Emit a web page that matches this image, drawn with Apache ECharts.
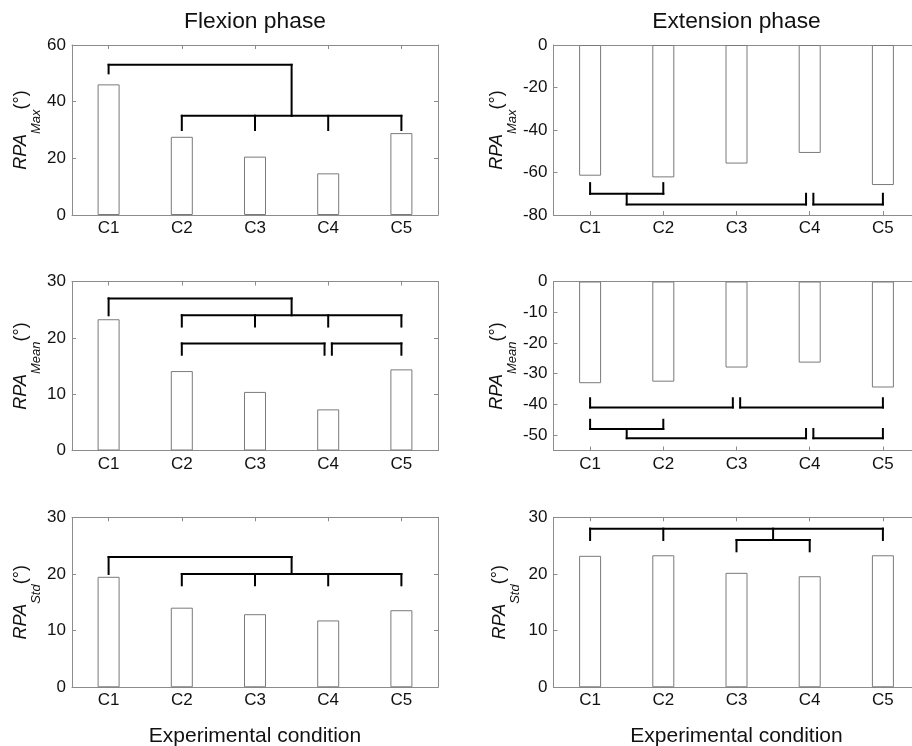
<!DOCTYPE html>
<html><head><meta charset="utf-8">
<script src="https://cdn.jsdelivr.net/npm/echarts@6/dist/echarts.min.js"></script>
<style>html,body{margin:0;padding:0;background:#fff}#c{width:912px;height:746px}</style>
</head><body><div id="c"></div>
<script>
// ---- data ----
const categories = ['C1', 'C2', 'C3', 'C4', 'C5'];
const flexMax  = [46.1, 27.6, 20.6, 14.7, 28.9];
const extMax   = [-61.5, -62.3, -55.8, -50.8, -65.9];
const flexMean = [23.3, 14.1, 10.4, 7.3, 14.4];
const extMean  = [-33.1, -32.6, -28.0, -26.4, -34.5];
const flexStd  = [19.5, 14.05, 12.9, 11.8, 13.6];
const extStd   = [23.2, 23.3, 20.2, 19.6, 23.3];

const ticksFlexMax  = [0, 20, 40, 60];
const ticksExtMax   = [-80, -60, -40, -20, 0];
const ticksFlexMean = [0, 10, 20, 30];
const ticksExtMean  = [-50, -40, -30, -20, -10, 0];
const ticksFlexStd  = [0, 10, 20, 30];
const ticksExtStd   = [0, 10, 20, 30];

// significance brackets (polylines in x = condition index 1..5, y = data value)
const bracketsFlexMax = [
  [[1, 50], [1, 53], [3.5, 53], [3.5, 35]],
  [[2, 30], [2, 35], [5, 35], [5, 30]],
  [[3, 30], [3, 35]],
  [[4, 30], [4, 35]]
];
const bracketsExtMax = [
  [[1, -65], [1, -70], [2, -70], [2, -65]],
  [[1.5, -70], [1.5, -75], [3.95, -75], [3.95, -70]],
  [[4.05, -70], [4.05, -75], [5, -75], [5, -70]]
];
const bracketsFlexMean = [
  [[1, 24], [1, 27], [3.5, 27], [3.5, 24]],
  [[2, 22], [2, 24], [5, 24], [5, 22]],
  [[3, 22], [3, 24]],
  [[4, 22], [4, 24]],
  [[2, 17], [2, 19], [3.95, 19], [3.95, 17]],
  [[4.05, 17], [4.05, 19], [5, 19], [5, 17]]
];
const bracketsExtMean = [
  [[1, -38], [1, -41], [2.95, -41], [2.95, -38]],
  [[3.05, -38], [3.05, -41], [5, -41], [5, -38]],
  [[1, -45], [1, -48], [2, -48], [2, -45]],
  [[1.5, -48], [1.5, -51], [3.95, -51], [3.95, -48]],
  [[4.05, -48], [4.05, -51], [5, -51], [5, -48]]
];
const bracketsFlexStd = [
  [[1, 20], [1, 23], [3.5, 23], [3.5, 20]],
  [[2, 18], [2, 20], [5, 20], [5, 18]],
  [[3, 18], [3, 20]],
  [[4, 18], [4, 20]]
];
const bracketsExtStd = [
  [[1, 26], [1, 28], [5, 28], [5, 26]],
  [[2, 26], [2, 28]],
  [[3.5, 28], [3.5, 26]],
  [[3, 24], [3, 26], [4, 26], [4, 24]]
];

const colTitles = ['Flexion phase', 'Extension phase'];
const xTitle = 'Experimental condition';

// ---- layout ----
const FONT = '"Liberation Sans", Arial, Helvetica, sans-serif';
const colLeft = [72, 553.5];
const colWidth = 366;
const rowTop = [45, 281.5, 517.3];
const rowHeight = [170, 169, 170];
const AXIS_COLOR = '#8c8c8c';

const panels = [
  { row: 0, col: 0, values: flexMax,  min: 0,   max: 60, ticks: ticksFlexMax,  sub: 'Max',  br: bracketsFlexMax },
  { row: 0, col: 1, values: extMax,   min: -80, max: 0,  ticks: ticksExtMax,   sub: 'Max',  br: bracketsExtMax },
  { row: 1, col: 0, values: flexMean, min: 0,   max: 30, ticks: ticksFlexMean, sub: 'Mean', br: bracketsFlexMean },
  { row: 1, col: 1, values: extMean,  min: -55, max: 0,  ticks: ticksExtMean,  sub: 'Mean', br: bracketsExtMean },
  { row: 2, col: 0, values: flexStd,  min: 0,   max: 30, ticks: ticksFlexStd,  sub: 'Std',  br: bracketsFlexStd },
  { row: 2, col: 1, values: extStd,   min: 0,   max: 30, ticks: ticksExtStd,   sub: 'Std',  br: bracketsExtStd }
];

function toSegments(polys) {
  const segs = [];
  polys.forEach(p => {
    for (let i = 0; i < p.length - 1; i++) segs.push([p[i][0], p[i][1], p[i + 1][0], p[i + 1][1]]);
  });
  return segs;
}

const grid = [], xAxis = [], yAxis = [], series = [];
const tickStyle = { show: true, inside: true, length: 4, lineStyle: { color: AXIS_COLOR, width: 1 } };
const lineStyle = { show: true, onZero: false, lineStyle: { color: AXIS_COLOR, width: 1 } };

panels.forEach((p, i) => {
  grid.push({
    left: colLeft[p.col], top: rowTop[p.row], width: colWidth, height: rowHeight[p.row],
    containLabel: false, outerBoundsMode: 'none', show: false
  });
  // bottom category axis (labels)
  xAxis.push({
    type: 'category', gridIndex: i, data: categories, position: 'bottom',
    axisLine: lineStyle, axisTick: Object.assign({ alignWithLabel: true }, tickStyle),
    axisLabel: { color: '#111', fontSize: 17, margin: 5, fontFamily: FONT },
    splitLine: { show: false }
  });
  // top mirror category axis
  xAxis.push({
    type: 'category', gridIndex: i, data: categories, position: 'top',
    axisLine: lineStyle, axisTick: Object.assign({ alignWithLabel: true }, tickStyle),
    axisLabel: { show: false }, splitLine: { show: false }
  });
  // hidden value axis for the brackets
  xAxis.push({ type: 'value', gridIndex: i, min: 0.5, max: 5.5, show: false, splitLine: { show: false } });

  const nameGap = p.col === 0 ? 29 : 32;
  yAxis.push({
    type: 'value', gridIndex: i, min: p.min, max: p.max, position: 'left',
    axisLine: lineStyle,
    axisTick: Object.assign({ customValues: p.ticks }, tickStyle),
    axisLabel: { customValues: p.ticks, color: '#111', fontSize: 17, margin: 6, fontFamily: FONT },
    splitLine: { show: false },
    name: '{a|RPA}{b|' + p.sub + '}{c|(°)}',
    nameLocation: 'middle', nameRotate: 90, nameGap: nameGap,
    nameTextStyle: {
      fontFamily: FONT, color: '#111',
      rich: {
        a: { fontSize: 18, fontStyle: 'italic', lineHeight: 44, fontFamily: FONT, color: '#111' },
        b: { fontSize: 13, fontStyle: 'italic', lineHeight: 14, verticalAlign: 'bottom', fontFamily: FONT, color: '#111' },
        c: { fontSize: 18, lineHeight: 44, fontFamily: FONT, color: '#111' }
      }
    }
  });
  yAxis.push({
    type: 'value', gridIndex: i, min: p.min, max: p.max, position: 'right',
    axisLine: lineStyle,
    axisTick: Object.assign({ customValues: p.ticks }, tickStyle),
    axisLabel: { show: false }, splitLine: { show: false }
  });

  series.push({
    type: 'bar', xAxisIndex: i * 3, yAxisIndex: i * 2, data: p.values,
    barWidth: 22,
    itemStyle: { color: '#ffffff', borderColor: '#7a7a7a', borderWidth: 1 },
    emphasis: { disabled: true }, silent: true, z: 2
  });
  series.push({
    type: 'custom', xAxisIndex: i * 3 + 2, yAxisIndex: i * 2,
    data: toSegments(p.br),
    encode: { x: [0, 2], y: [1, 3] },
    clip: false, silent: true, z: 5,
    renderItem: function (params, api) {
      const a = api.coord([api.value(0), api.value(1)]);
      const b = api.coord([api.value(2), api.value(3)]);
      return {
        type: 'line',
        shape: { x1: a[0], y1: a[1], x2: b[0], y2: b[1] },
        style: { stroke: '#000', lineWidth: 2, lineCap: 'square' }
      };
    }
  });
});

const graphic = [];
[0, 1].forEach(c => {
  const cx = colLeft[c] + colWidth / 2;
  graphic.push({ type: 'text', x: cx, y: 22, style: { text: colTitles[c], font: '22.8px ' + FONT, fill: '#111', align: 'center', verticalAlign: 'middle' } });
  graphic.push({ type: 'text', x: cx, y: 736, style: { text: xTitle, font: '21px ' + FONT, fill: '#111', align: 'center', verticalAlign: 'middle' } });
});

const chart = echarts.init(document.getElementById('c'), null, { renderer: 'canvas' });
chart.setOption({
  animation: false,
  backgroundColor: '#fff',
  textStyle: { fontFamily: FONT },
  grid, xAxis, yAxis, series, graphic
});
</script>
</body></html>
